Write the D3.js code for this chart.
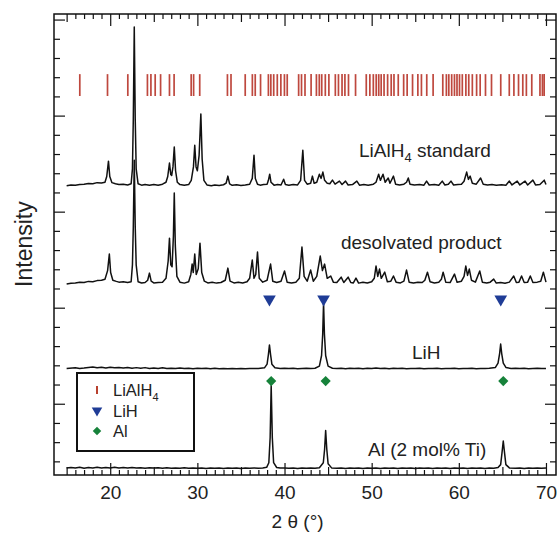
<!DOCTYPE html>
<html>
<head>
<meta charset="utf-8">
<script src="https://cdn.jsdelivr.net/npm/d3@7"></script>
<style>
  html, body { margin: 0; padding: 0; background: #fff; }
  svg { display: block; font-family: "Liberation Sans", Arial, Helvetica, sans-serif; }
</style>
</head>
<body>
<svg id="chart" width="557" height="533"></svg>
<script>
// ---------------- DATA ----------------
// LiAlH4 reference reflection positions (2θ, degrees)
const liAlH4Refs = [16.51,19.69,22.02,22.75,24.27,24.67,25.16,25.78,26.80,27.33,29.29,29.57,30.27,33.45,33.86,
  35.49,36.31,36.64,37.25,38.15,38.43,38.76,39.17,39.58,39.99,40.31,41.62,41.95,42.35,43.05,43.66,43.99,44.27,
  44.68,45.09,45.83,46.19,46.60,46.93,47.34,48.15,49.38,49.79,50.19,50.52,50.81,51.09,51.42,51.83,52.24,52.56,
  53.05,53.67,54.07,54.69,55.30,55.71,56.32,57.05,58.16,58.57,58.85,59.18,59.50,59.79,60.08,60.40,60.81,61.14,
  61.55,62.04,62.45,63.06,63.75,64.81,65.79,66.32,66.85,67.34,67.75,68.37,69.31,69.59,69.79];

// LiH and Al reflection markers (2θ)
const lihMarks = [38.27, 44.48, 64.81];
const alMarks  = [38.47, 44.72, 65.10];

// Pattern names and baseline offsets (intensity, a.u.)
const seriesNames  = ["standard", "desolvated", "lih", "al"];
const seriesOffset = [16.33, 11.23, 6.81, 1.63];

// Diffraction patterns: [2θ, intensity above own baseline]
const standardPattern = [[15,0.02],[15.5,0.06],[16,0.04],[16.5,0.08],[17,0.1],[17.5,0.14],[18,0.12],[18.5,0.18],[19,0.16],[19.4,0.2],[19.6,0.5],[19.8,1.3],[19.95,0.5],[20.2,0.18],[20.6,0.12],[21,0.08],[21.5,0.1],[22,0.06],[22.4,0.12],[22.55,0.9],[22.65,3.5],[22.76,8.28],[22.87,3.5],[22.98,0.9],[23.2,0.12],[23.6,0.05],[24,0.08],[24.5,0.04],[25,0.08],[25.5,0.04],[26,0.1],[26.4,0.2],[26.6,0.5],[26.8,1.2],[26.95,0.6],[27.05,0.55],[27.2,1.0],[27.35,2.03],[27.5,0.8],[27.7,0.2],[28,0.08],[28.5,0.04],[29,0.08],[29.3,0.3],[29.55,1.0],[29.7,2.13],[29.85,1.0],[30.0,0.8],[30.2,1.6],[30.4,3.75],[30.55,1.4],[30.75,0.3],[31.1,0.06],[31.6,0.02],[32,0.06],[32.5,0.03],[33,0.07],[33.3,0.15],[33.5,0.52],[33.7,0.12],[34,0.04],[34.5,0.07],[35,0.03],[35.5,0.06],[36,0.1],[36.3,0.4],[36.5,1.61],[36.65,0.4],[36.9,0.1],[37.2,0.05],[37.6,0.08],[38.0,0.1],[38.15,0.3],[38.3,0.62],[38.45,0.2],[38.8,0.05],[39.2,0.08],[39.6,0.06],[39.9,0.36],[40.1,0.08],[40.5,0.05],[41,0.08],[41.5,0.06],[41.85,0.3],[42.1,1.87],[42.3,0.3],[42.6,0.1],[43,0.15],[43.2,0.52],[43.4,0.15],[43.7,0.2],[44.0,0.62],[44.2,0.4],[44.4,0.73],[44.6,0.3],[44.9,0.15],[45.2,0.12],[45.5,0.31],[45.8,0.1],[46.3,0.26],[46.6,0.08],[47.0,0.26],[47.3,0.06],[47.8,0.08],[48.3,0.26],[48.6,0.05],[49.1,0.08],[49.6,0.05],[50.2,0.1],[50.5,0.2],[50.8,0.62],[51.0,0.3],[51.3,0.62],[51.55,0.2],[51.9,0.42],[52.1,0.15],[52.5,0.52],[52.75,0.1],[53.2,0.06],[53.7,0.1],[54.0,0.2],[54.2,0.42],[54.4,0.1],[54.9,0.06],[55.5,0.08],[56.0,0.05],[56.3,0.26],[56.6,0.06],[57.2,0.08],[57.7,0.04],[58.1,0.26],[58.4,0.06],[58.8,0.1],[59.1,0.26],[59.4,0.06],[59.9,0.08],[60.3,0.1],[60.6,0.25],[60.9,0.73],[61.1,0.35],[61.3,0.52],[61.55,0.15],[62.0,0.1],[62.5,0.42],[62.8,0.1],[63.3,0.06],[63.8,0.08],[64.3,0.04],[64.9,0.07],[65.4,0.05],[65.8,0.26],[66.1,0.06],[66.7,0.26],[67.0,0.06],[67.6,0.26],[67.9,0.06],[68.5,0.31],[68.8,0.06],[69.3,0.08],[69.8,0.31],[70,0.08]];

const desolvatedPattern = [[15,0],[15.5,0.04],[16,0.06],[16.5,0.1],[17,0.08],[17.5,0.14],[18,0.12],[18.5,0.18],[19,0.2],[19.4,0.25],[19.7,0.7],[19.9,1.56],[20.05,0.6],[20.3,0.2],[20.7,0.14],[21,0.1],[21.5,0.12],[22,0.08],[22.4,0.12],[22.55,1.0],[22.65,3.0],[22.76,6.45],[22.87,3.0],[22.98,1.0],[23.2,0.12],[23.6,0.06],[24,0.08],[24.3,0.2],[24.5,0.57],[24.7,0.15],[25,0.06],[25.5,0.08],[26,0.1],[26.4,0.3],[26.65,1.2],[26.8,2.39],[26.95,1.0],[27.1,0.9],[27.25,2.5],[27.35,4.74],[27.47,2.0],[27.65,0.4],[28,0.1],[28.5,0.05],[29,0.12],[29.25,0.5],[29.4,1.04],[29.53,0.6],[29.7,1.56],[29.87,0.5],[30.1,0.8],[30.3,2.13],[30.5,0.6],[30.8,0.15],[31.2,0.06],[31.7,0.1],[32.2,0.05],[32.7,0.08],[33.2,0.2],[33.5,0.83],[33.75,0.15],[34.2,0.06],[34.7,0.1],[35.2,0.06],[35.7,0.12],[36.0,0.3],[36.3,1.25],[36.5,0.3],[36.7,0.5],[36.9,1.67],[37.1,0.3],[37.5,0.1],[38.0,0.2],[38.4,1.04],[38.65,0.15],[39.1,0.08],[39.6,0.15],[40.0,0.68],[40.3,0.1],[40.8,0.06],[41.3,0.1],[41.7,0.3],[42.0,1.93],[42.25,0.4],[42.6,0.15],[43.0,0.73],[43.3,0.15],[43.7,0.4],[44.1,1.46],[44.35,0.7],[44.6,1.04],[44.9,0.3],[45.3,0.42],[45.6,0.1],[46.0,0.08],[46.5,0.36],[46.8,0.08],[47.3,0.36],[47.6,0.08],[47.9,0.06],[48.2,0.31],[48.5,0.05],[49.0,0.1],[49.5,0.06],[50.0,0.12],[50.3,0.3],[50.5,0.94],[50.7,0.4],[50.9,0.78],[51.1,0.3],[51.5,0.62],[51.8,0.12],[52.2,0.15],[52.5,0.42],[52.8,0.1],[53.3,0.06],[53.7,0.15],[54.0,0.73],[54.3,0.1],[54.8,0.06],[55.3,0.1],[55.8,0.08],[56.1,0.2],[56.4,0.62],[56.7,0.12],[57.2,0.06],[57.7,0.1],[58.0,0.25],[58.2,0.62],[58.5,0.1],[59.0,0.08],[59.5,0.52],[59.8,0.1],[60.3,0.15],[60.6,0.4],[60.8,0.94],[61.0,0.45],[61.2,0.78],[61.45,0.2],[61.9,0.1],[62.4,0.68],[62.7,0.1],[63.2,0.06],[63.6,0.1],[64.0,0.26],[64.3,0.05],[64.8,0.08],[65.3,0.04],[65.8,0.1],[66.3,0.42],[66.6,0.08],[66.9,0.1],[67.2,0.42],[67.5,0.08],[67.9,0.1],[68.2,0.42],[68.5,0.08],[69.0,0.1],[69.4,0.15],[69.7,0.62],[70,0.1]];

const lihPattern = [[15,0.03],[16,0.06],[16.5,0.03],[17,0.05],[17.5,0.08],[18,0.1],[18.5,0.06],[19,0.09],[19.5,0.05],[20,0.09],[20.5,0.06],[21,0.08],[21.5,0.05],[22,0.08],[22.5,0.04],[23,0.07],[23.5,0.04],[24,0.07],[24.5,0.03],[25,0.05],[25.5,0.03],[26,0.06],[26.5,0.02],[27,0.04],[27.5,0.02],[28,0.05],[28.5,0.02],[29,0.04],[29.5,0.01],[30,0.04],[30.5,0.02],[31,0.04],[31.5,0.01],[32,0.04],[32.5,0.01],[33,0.03],[33.5,0.01],[34,0.03],[34.5,0.01],[35,0.03],[35.5,0.01],[36,0.03],[36.5,0.02],[37,0.03],[37.7,0.06],[38.0,0.25],[38.15,0.75],[38.27,1.25],[38.4,0.75],[38.55,0.25],[38.9,0.06],[39.5,0.02],[40,0.04],[40.5,0.02],[41,0.04],[41.5,0.01],[42,0.03],[42.5,0.04],[43,0.02],[43.5,0.04],[44.0,0.15],[44.25,0.7],[44.38,1.8],[44.48,3.44],[44.58,1.8],[44.72,0.7],[45.0,0.15],[45.5,0.04],[46,0.02],[46.5,0.04],[47,0.01],[47.5,0.04],[48,0.02],[48.5,0.04],[49,0.01],[49.5,0.04],[50,0.02],[50.5,0.05],[51,0.02],[51.5,0.04],[52,0.01],[52.5,0.04],[53,0.02],[53.5,0.04],[54,0.01],[54.5,0.03],[55,0.02],[55.5,0.04],[56,0.01],[56.5,0.03],[57,0.02],[57.5,0.04],[58,0.01],[58.5,0.03],[59,0.02],[59.5,0.04],[60,0.01],[60.5,0.03],[61,0.02],[61.5,0.04],[62,0.01],[62.5,0.03],[63,0.02],[63.5,0.04],[64.2,0.08],[64.5,0.3],[64.68,0.8],[64.8,1.3],[64.92,0.8],[65.1,0.3],[65.4,0.08],[66,0.02],[66.5,0.04],[67,0.02],[67.5,0.04],[68,0.01],[68.5,0.03],[69,0.04],[69.5,0.02],[70,0.03]];

const alPattern = [[15,0.02],[15.5,0.05],[16,0.02],[16.5,0.06],[17,0.01],[17.5,0.05],[18,0.03],[18.5,0.06],[19,0.02],[19.5,0.05],[20,0.03],[20.5,0.06],[21,0.02],[21.5,0.05],[22,0.02],[22.5,0.05],[23,0.02],[23.5,0.04],[24,0.01],[24.5,0.04],[25,0.02],[25.5,0.04],[26,0.01],[26.5,0.04],[27,0.01],[27.5,0.03],[28,0.01],[28.5,0.04],[29,0.01],[29.5,0.03],[30,0.01],[30.5,0.03],[31,0.0],[31.5,0.03],[32,0.01],[32.5,0.03],[33,0.0],[33.5,0.03],[34,0.01],[34.5,0.03],[35,0.0],[35.5,0.03],[36,0.01],[36.5,0.03],[37,0.01],[37.5,0.03],[37.95,0.06],[38.2,0.3],[38.35,1.6],[38.47,4.3],[38.6,1.6],[38.75,0.3],[39.1,0.05],[39.5,0.02],[40,0.03],[40.5,0.01],[41,0.03],[41.5,0.0],[42,0.03],[42.5,0.01],[43,0.03],[43.5,0.01],[44,0.04],[44.45,0.3],[44.6,1.0],[44.72,1.98],[44.85,1.0],[45.0,0.25],[45.4,0.03],[46,0.01],[46.5,0.03],[47,0.0],[47.5,0.03],[48,0.01],[48.5,0.03],[49,0.0],[49.5,0.03],[50,0.01],[50.5,0.03],[51,0.0],[51.5,0.03],[52,0.01],[52.5,0.03],[53,0.0],[53.5,0.03],[54,0.01],[54.5,0.03],[55,0.0],[55.5,0.03],[56,0.01],[56.5,0.03],[57,0.0],[57.5,0.03],[58,0.01],[58.5,0.03],[59,0.0],[59.5,0.03],[60,0.01],[60.5,0.03],[61,0.0],[61.5,0.03],[62,0.01],[62.5,0.03],[63,0.0],[63.5,0.03],[64,0.01],[64.5,0.05],[64.8,0.2],[64.95,0.8],[65.1,1.43],[65.25,0.8],[65.4,0.2],[65.8,0.03],[66.5,0.01],[67,0.03],[67.5,0.0],[68,0.03],[68.5,0.01],[69,0.03],[69.5,0.01],[70,0.03]];

const patterns = [standardPattern, desolvatedPattern, lihPattern, alPattern];

const xTickLabels = [20, 30, 40, 50, 60, 70];
const legendLabels = ["LiAlH", "LiH", "Al"];

// ---------------- LAYOUT ----------------
const svg = d3.select("#chart");
const L = 54, R = 556, T = 14, B = 475;
const x = d3.scaleLinear().domain([13.55, 71.15]).range([L, R]);
const y = d3.scaleLinear().domain([1.29, 25.29]).range([B, T]);

const ink = "#111";
const fontSz = 19;

// reference bars (LiAlH4)
const refLevel = [21.02, 22.16];
svg.append("g").selectAll("line").data(liAlH4Refs).join("line")
  .attr("x1", d => x(d)).attr("x2", d => x(d))
  .attr("y1", y(refLevel[1])).attr("y2", y(refLevel[0]))
  .attr("stroke", "#b3281c").attr("stroke-opacity", 0.85).attr("stroke-width", 1.7);

// patterns
patterns.forEach((p, i) => {
  svg.append("path")
    .datum(p)
    .attr("fill", "none")
    .attr("stroke", ink)
    .attr("stroke-width", 1.5)
    .attr("stroke-linejoin", "round")
    .attr("d", d3.line().x(d => x(d[0])).y(d => y(d[1] + seriesOffset[i])));
});

// markers
const triLevel = 10.45, diaLevel = 6.18;
const tri = d3.symbol().type(d3.symbolTriangle).size(70);
svg.append("g").selectAll("path").data(lihMarks).join("path")
  .attr("d", tri)
  .attr("transform", d => `translate(${x(d)},${y(triLevel)}) rotate(180)`)
  .attr("fill", "#1f3c96");
const dia = d3.symbol().type(d3.symbolSquare).size(52);
svg.append("g").selectAll("path").data(alMarks).join("path")
  .attr("d", dia)
  .attr("transform", d => `translate(${x(d)},${y(diaLevel)}) rotate(45)`)
  .attr("fill", "#16823a");

// axes
function tickSet(step) { return d3.range(15, 71, step); }
function drawX(axisFn, yPos) {
  const minor = tickSet(1).filter(v => v % 5 !== 0);
  const mid = tickSet(5).filter(v => v % 10 !== 0);
  [[minor, 5], [mid, 8], [xTickLabels, 12]].forEach(([vals, len]) => {
    const g = svg.append("g").attr("transform", `translate(0,${yPos})`)
      .call(axisFn(x).tickValues(vals).tickSize(-len).tickFormat(""));
    g.select(".domain").remove();
    g.selectAll("line").attr("stroke", ink).attr("stroke-width", 1.2);
  });
}
drawX(d3.axisBottom, B);
drawX(d3.axisTop, T);

// x tick labels
const gl = svg.append("g").attr("transform", `translate(0,${B})`)
  .call(d3.axisBottom(x).tickValues(xTickLabels).tickSize(0).tickPadding(11).tickFormat(d3.format("d")));
gl.select(".domain").remove();
gl.selectAll("text").attr("font-size", fontSz).attr("fill", "#222")
  .attr("font-family", "Liberation Sans, Arial, sans-serif");

// y ticks
const yMinor = d3.range(2, 26).filter(v => v % 5 !== 0);
const yMajor = [5, 10, 15, 20, 25];
[[yMinor, 6], [yMajor, 11]].forEach(([vals, len]) => {
  [[d3.axisLeft, L], [d3.axisRight, R]].forEach(([fn, xp]) => {
    const g = svg.append("g").attr("transform", `translate(${xp},0)`)
      .call(fn(y).tickValues(vals).tickSize(-len).tickFormat(""));
    g.select(".domain").remove();
    g.selectAll("line").attr("stroke", ink).attr("stroke-width", 1.2);
  });
});

// frame
svg.append("rect").attr("x", L).attr("y", T).attr("width", R - L).attr("height", B - T)
  .attr("fill", "none").attr("stroke", ink).attr("stroke-width", 1.5);

// axis titles
svg.append("text").attr("x", x(41.5)).attr("y", 528).attr("text-anchor", "middle")
  .attr("font-size", fontSz).attr("fill", "#222").text("2 θ (°)");
svg.append("text").attr("transform", `translate(32,${y(13.31)}) rotate(-90)`)
  .attr("text-anchor", "middle").attr("font-size", 23).attr("fill", "#222").text("Intensity");

// pattern labels
function sublabel(xv, yv, parts) {
  const t = svg.append("text").attr("x", x(xv)).attr("y", y(yv))
    .attr("font-size", fontSz).attr("fill", "#222");
  parts.forEach(([s, sub], k) => {
    const ts = t.append("tspan").text(s);
    if (sub) ts.attr("font-size", fontSz * 0.68).attr("dy", 5);
    else if (k > 0) ts.attr("dy", -5);
  });
  return t;
}
sublabel(48.55, 17.87, [["LiAlH"], ["4", true], [" standard"]]);
sublabel(46.48, 13.08, [["desolvated product"]]);
sublabel(54.63, 7.33, [["LiH"]]);
sublabel(49.58, 2.28, [["Al (2 mol% Ti)"]]);

// legend
const lg = svg.append("g");
const lx = 77, ly = 373, lw = 117, lh = 78;
lg.append("rect").attr("x", lx).attr("y", ly).attr("width", lw).attr("height", lh)
  .attr("fill", "#fff").attr("stroke", ink).attr("stroke-width", 2);
const rowY = [390, 410.5, 431];
lg.append("line").attr("x1", 97).attr("x2", 97).attr("y1", rowY[0] - 4).attr("y2", rowY[0] + 4)
  .attr("stroke", "#b8402e").attr("stroke-width", 2);
lg.append("path").attr("d", d3.symbol().type(d3.symbolTriangle).size(48))
  .attr("transform", `translate(97,${rowY[1]}) rotate(180)`).attr("fill", "#1f3c96");
lg.append("path").attr("d", d3.symbol().type(d3.symbolSquare).size(36))
  .attr("transform", `translate(97,${rowY[2]}) rotate(45)`).attr("fill", "#16823a");
legendLabels.forEach((lab, i) => {
  const t = lg.append("text").attr("x", 113).attr("y", rowY[i] + 6)
    .attr("font-size", 16.5).attr("fill", "#222").text(lab);
  if (i === 0) t.append("tspan").text("4").attr("font-size", 11).attr("dy", 5);
});
</script>
</body>
</html>
